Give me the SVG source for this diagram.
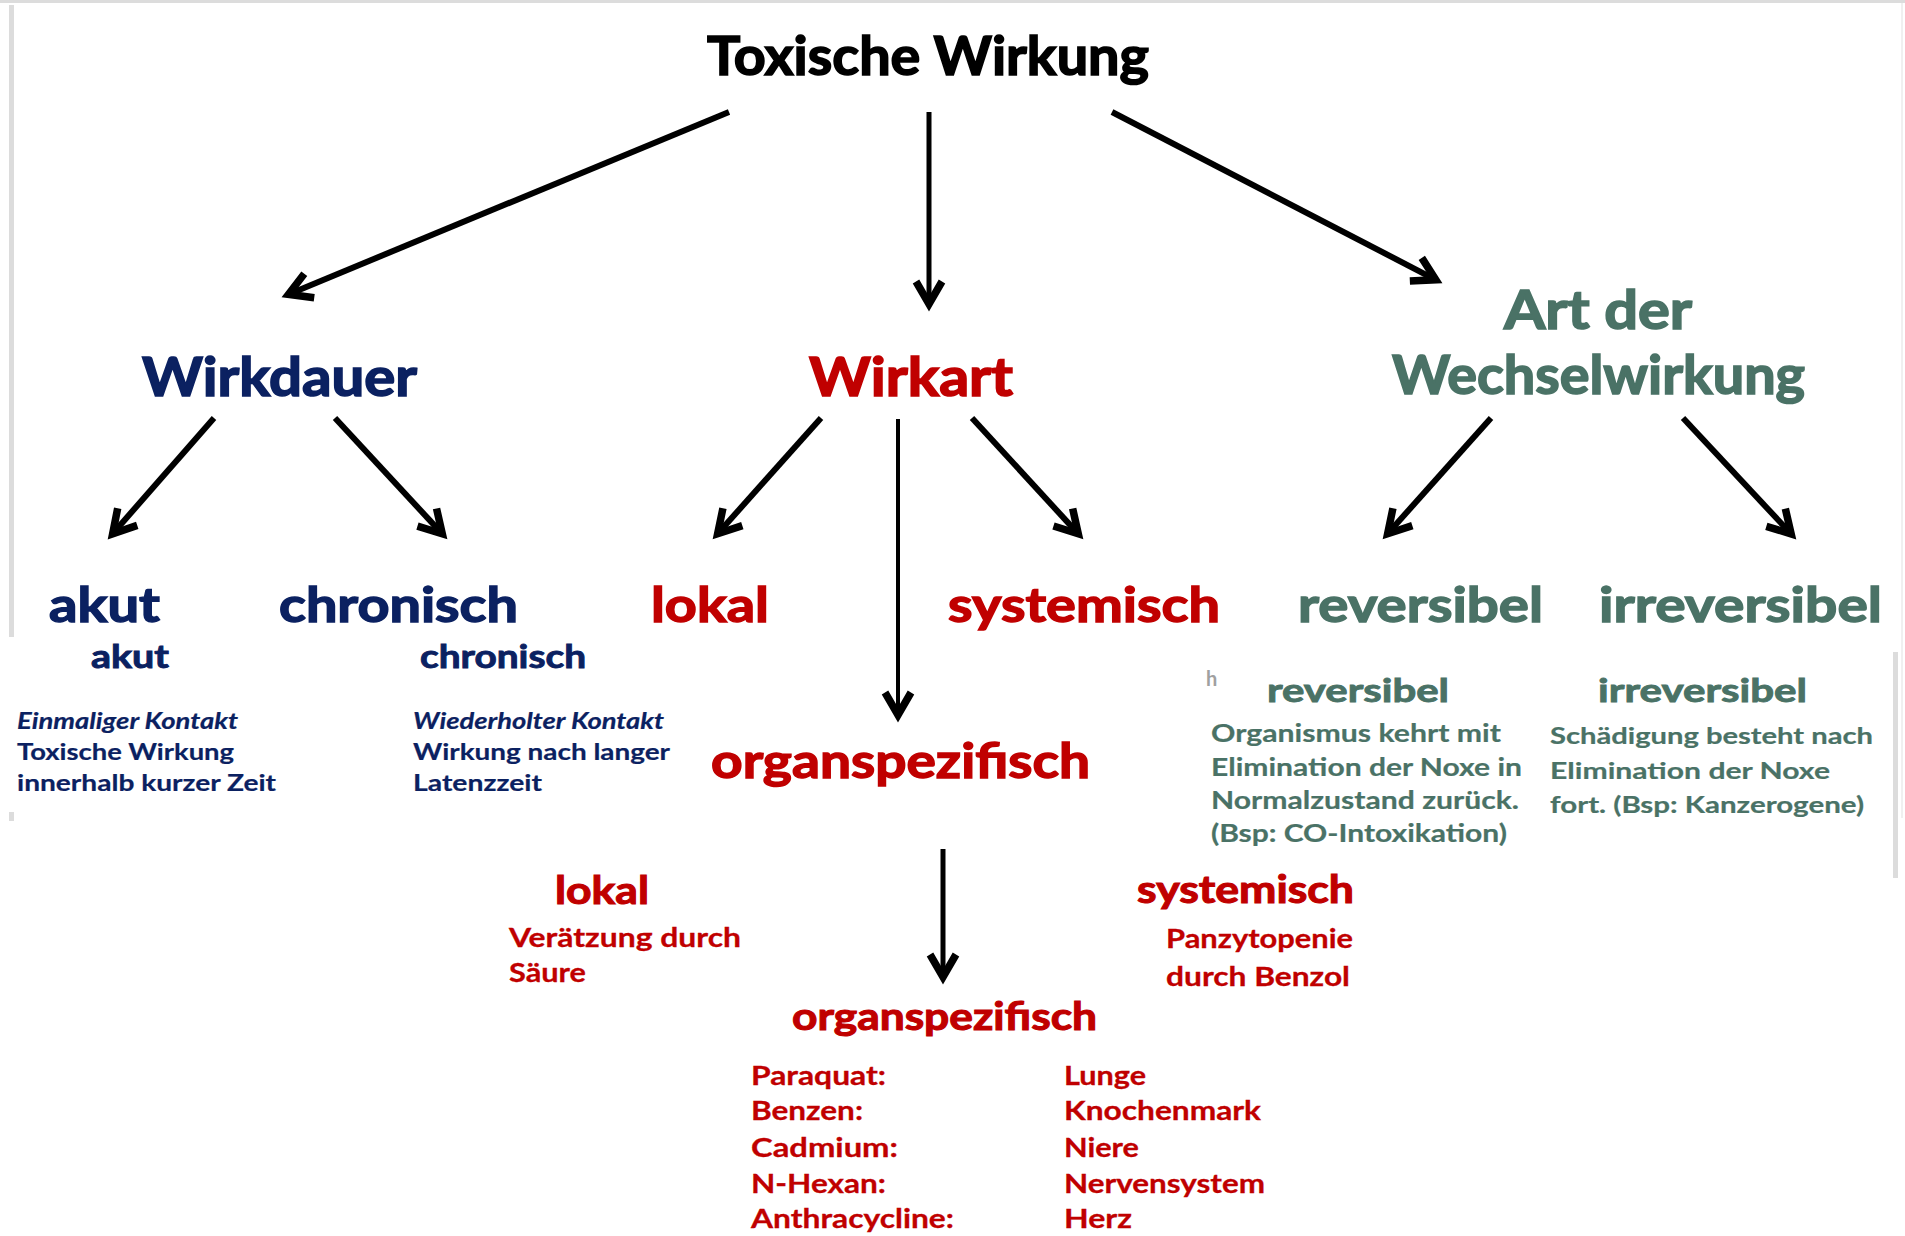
<svg xmlns="http://www.w3.org/2000/svg" width="1905" height="1236" viewBox="0 0 1905 1236">
<style>
text{font-family:Lato,"Open Sans","Liberation Sans",sans-serif;font-weight:bold}
.k{fill:#000;stroke:#000}
.b{fill:#0b2161;stroke:#0b2161}
.r{fill:#c00000;stroke:#c00000}
.g{fill:#4a7266;stroke:#4a7266}
.h1{font-size:54px;stroke-width:1.6px}
.h2{font-size:54px;stroke-width:1.6px}
.h3{font-size:48px;stroke-width:1.4px}
.h4{font-size:33px;stroke-width:0.9px}
.h5{font-size:39px;stroke-width:1.1px}
.d{font-size:23px;stroke-width:0.2px}
.i{font-style:italic}
.e{font-size:25px;stroke-width:0.2px}
.f{font-size:27px;stroke-width:0.3px}
.l{font-size:26px;stroke-width:0.3px}
.ln{fill:none;stroke:#000;marker-end:url(#ah)}
.frame{fill:#dcdcdc}
</style>
<defs>
<marker id="ah" markerUnits="userSpaceOnUse" viewBox="-30 -25 45 50" markerWidth="45" markerHeight="50" refX="0" refY="0" orient="auto">
<path d="M-21.5,-13 L1,0 L-21.5,13" fill="none" stroke="#000" stroke-width="7.5" stroke-linejoin="miter"/>
</marker>
</defs>
<rect width="1905" height="1236" fill="#fff"/>
<g id="frame">
<rect class="frame" x="0" y="0" width="1905" height="3"/>
<rect class="frame" x="9" y="5" width="5" height="632"/>
<rect class="frame" x="9" y="812" width="5" height="9"/>
<rect class="frame" x="1893" y="652" width="5" height="226"/>
<rect x="1901" y="3" width="2" height="815" fill="#f0f0f0"/>
</g>
<g id="connectors">
<line class="ln" x1="729" y1="112" x2="289.4" y2="293.9" stroke-width="6"/>
<line class="ln" x1="929" y1="112" x2="929" y2="303" stroke-width="5"/>
<line class="ln" x1="1112" y1="112" x2="1434.9" y2="279.3" stroke-width="6"/>
<line class="ln" x1="214" y1="418" x2="113.3" y2="533" stroke-width="6"/>
<line class="ln" x1="335" y1="418" x2="441.6" y2="533.1" stroke-width="6"/>
<line class="ln" x1="821" y1="418" x2="718.3" y2="533" stroke-width="6"/>
<line class="ln" x1="898" y1="419" x2="898" y2="714" stroke-width="4"/>
<line class="ln" x1="972" y1="418" x2="1077.6" y2="533.1" stroke-width="6"/>
<line class="ln" x1="1491" y1="418" x2="1388.3" y2="533" stroke-width="6"/>
<line class="ln" x1="1683" y1="418" x2="1790.5" y2="533.2" stroke-width="6"/>
<line class="ln" x1="943" y1="849" x2="943" y2="976" stroke-width="5"/>
</g>
<g id="root"><text class="k h1" x="707" y="75" textLength="442" lengthAdjust="spacingAndGlyphs">Toxische Wirkung</text></g>
<g id="wirkdauer"><text class="b h2" x="142" y="396" textLength="275" lengthAdjust="spacingAndGlyphs">Wirkdauer</text></g>
<g id="wirkart"><text class="r h2" x="809" y="396" textLength="204" lengthAdjust="spacingAndGlyphs">Wirkart</text></g>
<g id="wechselwirkung">
<text class="g h2" x="1504" y="329" textLength="188" lengthAdjust="spacingAndGlyphs">Art der</text>
<text class="g h2" x="1392" y="394" textLength="413" lengthAdjust="spacingAndGlyphs">Wechselwirkung</text>
</g>
<g id="akut"><text class="b h3" x="49" y="622" textLength="111" lengthAdjust="spacingAndGlyphs">akut</text></g>
<g id="chronisch"><text class="b h3" x="279" y="622" textLength="239" lengthAdjust="spacingAndGlyphs">chronisch</text></g>
<g id="lokal"><text class="r h3" x="651" y="622" textLength="118" lengthAdjust="spacingAndGlyphs">lokal</text></g>
<g id="systemisch"><text class="r h3" x="948" y="622" textLength="272" lengthAdjust="spacingAndGlyphs">systemisch</text></g>
<g id="reversibel"><text class="g h3" x="1298" y="622" textLength="245" lengthAdjust="spacingAndGlyphs">reversibel</text></g>
<g id="irreversibel"><text class="g h3" x="1599" y="622" textLength="283" lengthAdjust="spacingAndGlyphs">irreversibel</text></g>
<g id="organspezifisch"><text class="r h3" x="711" y="778" textLength="379" lengthAdjust="spacingAndGlyphs">organspezifisch</text></g>
<g id="akut-detail">
<text class="b h4" x="91" y="668" textLength="78" lengthAdjust="spacingAndGlyphs">akut</text>
<text class="b d i" x="17" y="729" textLength="221" lengthAdjust="spacingAndGlyphs">Einmaliger Kontakt</text>
<text class="b d" x="17" y="760" textLength="217" lengthAdjust="spacingAndGlyphs">Toxische Wirkung</text>
<text class="b d" x="17" y="791" textLength="259" lengthAdjust="spacingAndGlyphs">innerhalb kurzer Zeit</text>
</g>
<g id="chronisch-detail">
<text class="b h4" x="420" y="668" textLength="166" lengthAdjust="spacingAndGlyphs">chronisch</text>
<text class="b d i" x="413" y="729" textLength="251" lengthAdjust="spacingAndGlyphs">Wiederholter Kontakt</text>
<text class="b d" x="413" y="760" textLength="257" lengthAdjust="spacingAndGlyphs">Wirkung nach langer</text>
<text class="b d" x="413" y="791" textLength="129" lengthAdjust="spacingAndGlyphs">Latenzzeit</text>
</g>
<g id="reversibel-detail">
<text x="1206" y="686" font-size="20" fill="#a0a0a0">h</text>
<text class="g h4" x="1267" y="702" textLength="182" lengthAdjust="spacingAndGlyphs">reversibel</text>
<text class="g e" x="1211" y="742" textLength="290" lengthAdjust="spacingAndGlyphs">Organismus kehrt mit</text>
<text class="g e" x="1211" y="776" textLength="311" lengthAdjust="spacingAndGlyphs">Elimination der Noxe in</text>
<text class="g e" x="1211" y="809" textLength="308" lengthAdjust="spacingAndGlyphs">Normalzustand zurück.</text>
<text class="g e" x="1211" y="842" textLength="296" lengthAdjust="spacingAndGlyphs">(Bsp: CO-Intoxikation)</text>
</g>
<g id="irreversibel-detail">
<text class="g h4" x="1598" y="702" textLength="209" lengthAdjust="spacingAndGlyphs">irreversibel</text>
<text class="g d" x="1550" y="744" textLength="323" lengthAdjust="spacingAndGlyphs">Schädigung besteht nach</text>
<text class="g d" x="1550" y="779" textLength="280" lengthAdjust="spacingAndGlyphs">Elimination der Noxe</text>
<text class="g d" x="1550" y="813" textLength="314" lengthAdjust="spacingAndGlyphs">fort. (Bsp: Kanzerogene)</text>
</g>
<g id="lokal-detail">
<text class="r h5" x="555" y="904" textLength="94" lengthAdjust="spacingAndGlyphs">lokal</text>
<text class="r f" x="509" y="947" textLength="232" lengthAdjust="spacingAndGlyphs">Verätzung durch</text>
<text class="r f" x="509" y="982" textLength="77" lengthAdjust="spacingAndGlyphs">Säure</text>
</g>
<g id="systemisch-detail">
<text class="r h5" x="1137" y="903" textLength="217" lengthAdjust="spacingAndGlyphs">systemisch</text>
<text class="r f" x="1166" y="948" textLength="187" lengthAdjust="spacingAndGlyphs">Panzytopenie</text>
<text class="r f" x="1166" y="986" textLength="184" lengthAdjust="spacingAndGlyphs">durch Benzol</text>
</g>
<g id="organspezifisch-detail">
<text class="r h5" x="792" y="1030" textLength="305" lengthAdjust="spacingAndGlyphs">organspezifisch</text>
<text class="r l" x="751" y="1085" textLength="135" lengthAdjust="spacingAndGlyphs">Paraquat:</text>
<text class="r l" x="751" y="1120" textLength="112" lengthAdjust="spacingAndGlyphs">Benzen:</text>
<text class="r l" x="751" y="1157" textLength="147" lengthAdjust="spacingAndGlyphs">Cadmium:</text>
<text class="r l" x="751" y="1193" textLength="135" lengthAdjust="spacingAndGlyphs">N-Hexan:</text>
<text class="r l" x="751" y="1228" textLength="203" lengthAdjust="spacingAndGlyphs">Anthracycline:</text>
<text class="r l" x="1064" y="1085" textLength="82" lengthAdjust="spacingAndGlyphs">Lunge</text>
<text class="r l" x="1064" y="1120" textLength="197" lengthAdjust="spacingAndGlyphs">Knochenmark</text>
<text class="r l" x="1064" y="1157" textLength="75" lengthAdjust="spacingAndGlyphs">Niere</text>
<text class="r l" x="1064" y="1193" textLength="201" lengthAdjust="spacingAndGlyphs">Nervensystem</text>
<text class="r l" x="1064" y="1228" textLength="68" lengthAdjust="spacingAndGlyphs">Herz</text>
</g>
</svg>
